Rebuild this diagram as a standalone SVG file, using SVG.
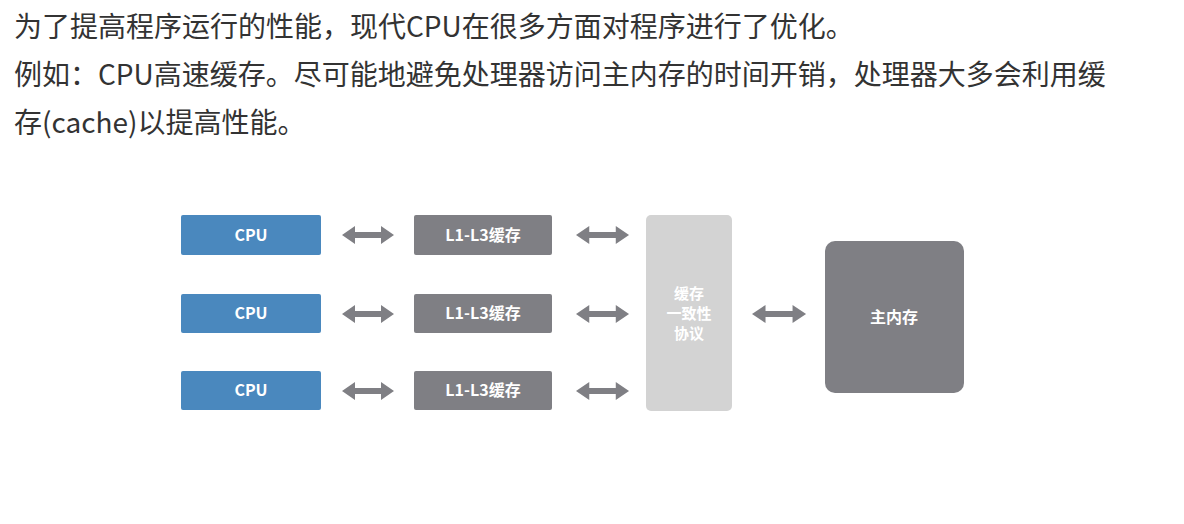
<svg xmlns="http://www.w3.org/2000/svg" width="1184" height="524" viewBox="0 0 1184 524">
<defs>
<style>
.t{font-family:"Noto Sans CJK SC","Noto Sans",sans-serif;font-size:28px;fill:#333}
.l{font-family:"Noto Sans CJK SC","Noto Sans",sans-serif;font-size:16px;font-weight:bold;fill:#fff;text-anchor:middle}
.s{font-size:15px}
.cpu{fill:#4a88be}
.gr{fill:#7f7f84}
.ar{fill:#7f7f84}
</style>
<path id="a" d="M0,0 l13,-9 v6 h26 v-6 l13,9 l-13,9 v-6 h-26 v6 z"/>
</defs>
<rect width="1184" height="524" fill="#fff"/>
<text class="t" x="14" y="37">为了提高程序运行的性能，现代CPU在很多方面对程序进行了优化。</text>
<text class="t" x="14" y="85">例如：CPU高速缓存。尽可能地避免处理器访问主内存的时间开销，处理器大多会利用缓</text>
<text class="t" x="14" y="133">存(cache)以提高性能。</text>
<g id="cpu1"><rect class="cpu" x="181" y="215" width="140" height="40" rx="2"/><text class="l" x="251" y="241">CPU</text></g>
<g id="cpu2"><rect class="cpu" x="181" y="294" width="140" height="39" rx="2"/><text class="l" x="251" y="319">CPU</text></g>
<g id="cpu3"><rect class="cpu" x="181" y="371" width="140" height="39" rx="2"/><text class="l" x="251" y="396">CPU</text></g>
<g id="c1"><rect class="gr" x="414" y="215" width="138" height="40" rx="2"/><text class="l" x="483" y="241">L1-L3缓存</text></g>
<g id="c2"><rect class="gr" x="414" y="294" width="138" height="39" rx="2"/><text class="l" x="483" y="319">L1-L3缓存</text></g>
<g id="c3"><rect class="gr" x="414" y="371" width="138" height="39" rx="2"/><text class="l" x="483" y="396">L1-L3缓存</text></g>
<g id="coh"><rect x="646" y="215" width="86" height="196" rx="5" fill="#d3d3d3"/>
<text class="l s" x="689" y="299">缓存</text><text class="l s" x="689" y="319">一致性</text><text class="l s" x="689" y="339">协议</text></g>
<g id="mem"><rect class="gr" x="825" y="241" width="139" height="152" rx="10"/><text class="l" x="894" y="323">主内存</text></g>
<g id="connectors" class="ar">
<use href="#a" transform="translate(342,235)"/>
<use href="#a" transform="translate(342,314)"/>
<use href="#a" transform="translate(342,391)"/>
<use href="#a" transform="translate(576,235) scale(1.02,1)"/>
<use href="#a" transform="translate(576,314) scale(1.02,1)"/>
<use href="#a" transform="translate(576,391) scale(1.02,1)"/>
<use href="#a" transform="translate(752,314) scale(1.04,1)"/>
</g>
</svg>
